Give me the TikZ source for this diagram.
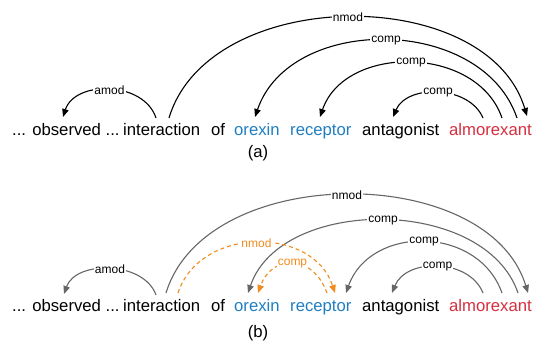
\documentclass[tikz,border=0pt]{standalone}
\usepackage{fontspec}
\setmainfont{Liberation Sans}
\usetikzlibrary{arrows.meta}
\definecolor{wblue}{HTML}{1F7EC2}
\definecolor{wred}{HTML}{D32F3F}
\definecolor{dorange}{HTML}{F08C1E}
\definecolor{dgray}{HTML}{666666}
\begin{document}
\begin{tikzpicture}[x=1pt,y=1pt,
  word/.style={anchor=base west, inner sep=0pt, font=\fontsize{16.7}{20}\selectfont},
  panelcap/.style={inner sep=0pt, font=\fontsize{16.7}{20}\selectfont},
  lbl/.style={fill=white, inner sep=1pt, font=\fontsize{12}{14}\selectfont, text=black},
  olbl/.style={lbl, text=dorange},
  dep/.style={line width=1.1pt, -{Triangle[length=8pt,width=6.5pt]}},
  depA/.style={dep, draw=black},
  depB/.style={dep, draw=dgray},
  depO/.style={dep, draw=dorange, dash pattern=on 4pt off 3pt}
]
\useasboundingbox (0,0) rectangle (533,343);

% ---------- panel (a) ----------
\node[word] (a0) at (12,207) {... observed ...};
\node[word] (a1) at (123,207) {interaction};
\node[word] (a2) at (211,207) {of};
\node[word, text=wblue] (a3) at (234,207) {orexin};
\node[word, text=wblue] (a4) at (290,207) {receptor};
\node[word] (a5) at (362,207) {antagonist};
\node[word, text=wred] (a6) at (449,207) {almorexant};
\node[panelcap] (capa) at (258,190) {(a)};

\coordinate (aAmodS) at (156,225);
\coordinate (aAmodE) at (63,226);
\coordinate (aNmodS) at (169,225);
\coordinate (aNmodE) at (527,227);
\coordinate (aC1S) at (517,225);
\coordinate (aC1E) at (255,226);
\coordinate (aC2S) at (502,225);
\coordinate (aC2E) at (320,226);
\coordinate (aC3S) at (483,225);
\coordinate (aC3E) at (393,226);

\draw[depA] (aAmodS) .. controls +(-12,37) and +(12,37) .. (aAmodE) node[lbl,pos=.5] {amod};
\draw[depA] (aNmodS) .. controls +(40,133) and +(-40,133) .. (aNmodE) node[lbl,pos=.5] {nmod};
\draw[depA] (aC1S) .. controls +(-35,103) and +(35,103) .. (aC1E) node[lbl,pos=.5] {comp};
\draw[depA] (aC2S) .. controls +(-25,73) and +(25,73) .. (aC2E) node[lbl,pos=.5] {comp};
\draw[depA] (aC3S) .. controls +(-14,33) and +(14,33) .. (aC3E) node[lbl,pos=.5] {comp};

% ---------- panel (b) ----------
\node[word] (b0) at (12,32) {... observed ...};
\node[word] (b1) at (123,32) {interaction};
\node[word] (b2) at (211,32) {of};
\node[word, text=wblue] (b3) at (234,32) {orexin};
\node[word, text=wblue] (b4) at (290,32) {receptor};
\node[word] (b5) at (362,32) {antagonist};
\node[word, text=wred] (b6) at (449,32) {almorexant};
\node[panelcap] (capb) at (258,10) {(b)};

\coordinate (bAmodS) at (156,48);
\coordinate (bAmodE) at (64,49);
\coordinate (bNmodS) at (166,50);
\coordinate (bNmodE) at (528,50);
\coordinate (bC1S) at (518,50);
\coordinate (bC1E) at (248,50);
\coordinate (bC2S) at (502,50);
\coordinate (bC2E) at (346,50);
\coordinate (bC3S) at (483,50);
\coordinate (bC3E) at (392,50);
\coordinate (oNmodS) at (178,50);
\coordinate (oNmodE) at (335,50);
\coordinate (oCompS) at (327,50);
\coordinate (oCompE) at (258,50);

\draw[depB] (bAmodS) .. controls +(-12,34) and +(12,34) .. (bAmodE) node[lbl,pos=.5] {amod};
\draw[depB] (bNmodS) .. controls +(40,131) and +(-40,131) .. (bNmodE) node[lbl,pos=.5] {nmod};
\draw[depB] (bC1S) .. controls +(-33,97) and +(33,97) .. (bC1E) node[lbl,pos=.5] {comp};
\draw[depB] (bC2S) .. controls +(-24,68) and +(24,68) .. (bC2E) node[lbl,pos=.5] {comp};
\draw[depB] (bC3S) .. controls +(-14,35) and +(14,35) .. (bC3E) node[lbl,pos=.5] {comp};
\draw[depO] (oNmodS) .. controls +(22,67) and +(-22,67) .. (oNmodE) node[olbl,pos=.5] {nmod};
\draw[depO] (oCompS) .. controls +(-14,39) and +(14,39) .. (oCompE) node[olbl,pos=.5] {comp};
\end{tikzpicture}
\end{document}
